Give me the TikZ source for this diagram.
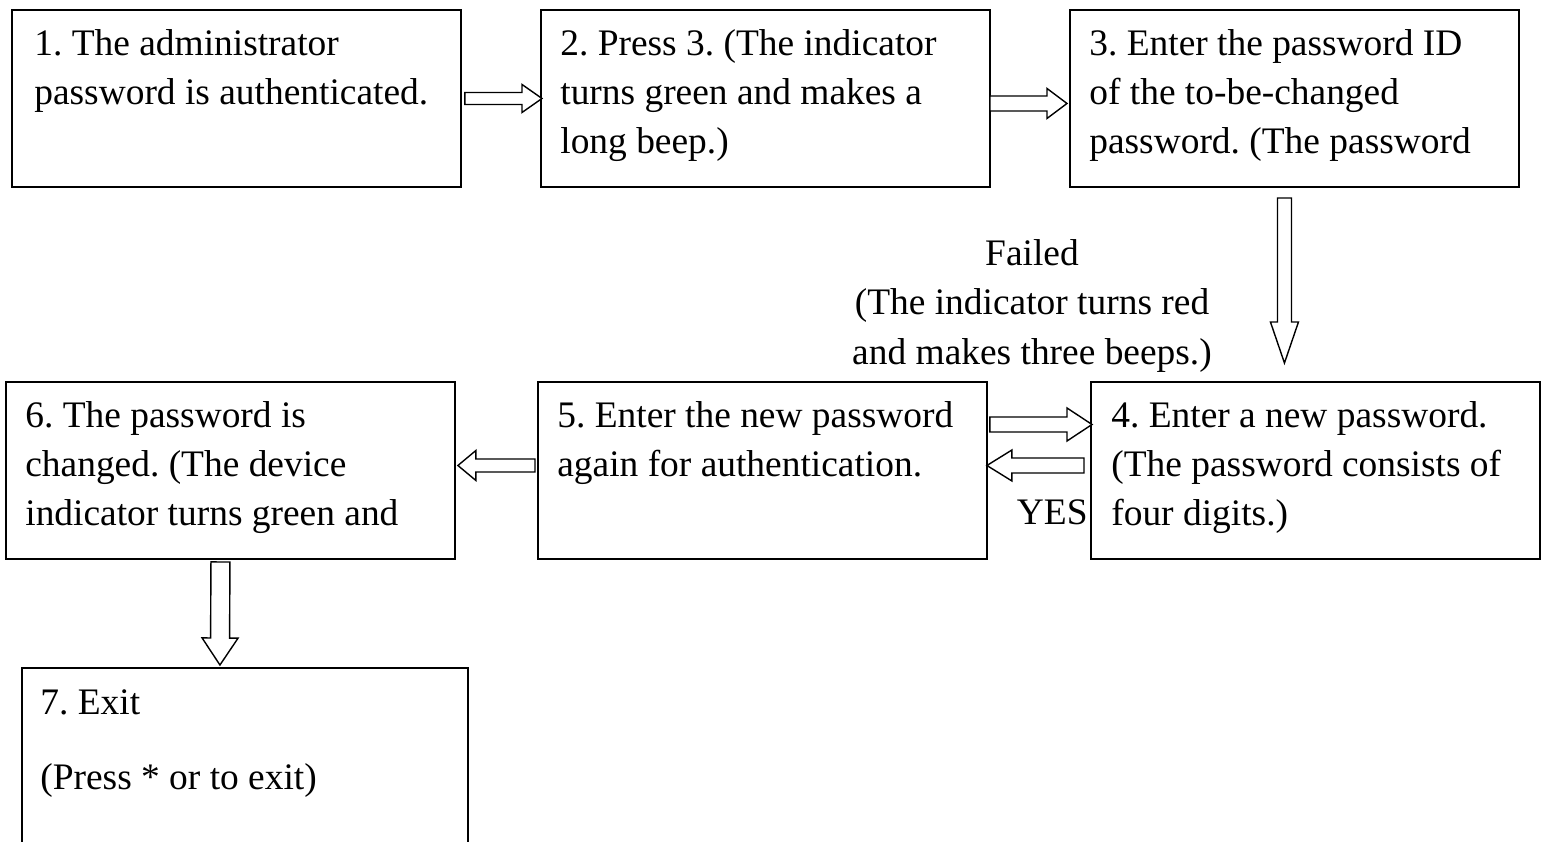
\documentclass[tikz,border=0pt]{standalone}
\usepackage{fontspec}
\setmainfont{Liberation Serif}
\usetikzlibrary{calc}

\frenchspacing
\hyphenpenalty=10000
\exhyphenpenalty=10000

\tikzset{
  stepbox/.style={draw, line width=1.1pt, rectangle, minimum width=8.98cm, minimum height=3.54cm, inner sep=0pt, outer sep=0pt, anchor=north west},
  steptext/.style={anchor=base west, align=flush left, text width=8.8cm, inner sep=0pt},
  fatline/.style={draw, line width=0.8pt, fill=white, line join=miter},
}

% start, tip, shaft half width, head half width, head length
\newcommand{\fatarrow}[5]{%
  \coordinate (fa-h) at ($(#2)!#5!(#1)$);
  \draw[fatline] ($(#1)!#3!90:(#2)$) -- ($(fa-h)!#3!90:(#2)$) -- ($(fa-h)!#4!90:(#2)$) -- (#2)
    -- ($(fa-h)!#4!-90:(#2)$) -- ($(fa-h)!#3!-90:(#2)$) -- ($(#1)!#3!-90:(#2)$) -- cycle;}

\begin{document}
\begin{tikzpicture}[x=0.02cm, y=-0.02cm, every node/.style={font=\fontsize{21.3}{27.9}\selectfont}]
\useasboundingbox (0,0) rectangle (1546,842);
\clip (0,0) rectangle (1546,842);

\node[stepbox] (b1) at (12,10) {};
\node[stepbox] (b2) at (541,10) {};
\node[stepbox] (b3) at (1070,10) {};
\node[stepbox] (b6) at (6,382) {};
\node[stepbox] (b5) at (538,382) {};
\node[stepbox] (b4) at (1091,382) {};
\node[stepbox, minimum width=8.92cm, minimum height=5cm] (b7) at (22,668) {};

\node[steptext] (t1) at ([shift={(22,45)}]b1.north west) {1. The administrator\\password is authenticated.};
\node[steptext] (t2) at ([shift={(19,45)}]b2.north west) {2. Press 3. (The indicator\\turns green and makes a\\long beep.)};
\node[steptext] (t3) at ([shift={(19,45)}]b3.north west) {3. Enter the password ID\\of the to-be-changed\\password. (The password};
\node[steptext] (t6) at ([shift={(19,45)}]b6.north west) {6. The password is\\changed. (The device\\indicator turns green and};
\node[steptext] (t5) at ([shift={(19,45)}]b5.north west) {5. Enter the new password\\again for authentication.};
\node[steptext] (t4) at ([shift={(20,45)}]b4.north west) {4. Enter a new password.\\(The password consists of\\four digits.)};
\node[steptext] (t7) at ([shift={(18,46)}]b7.north west) {7. Exit\\[0.52cm](Press * or to exit)};

\node[align=center, anchor=base] (fail) at (1032,364) {Failed\\(The indicator turns red\\and makes three beeps.)};
\node[anchor=base east, inner sep=0pt] (yes) at ([shift={(-3,54)}]b4.west) {YES};

\coordinate (a1s) at ([shift={(4,0)}]b1.east);
\coordinate (a1e) at ([shift={(1,0)}]b2.west);
\coordinate (a2s) at ([shift={(0,5)}]b2.east);
\coordinate (a2e) at ([shift={(-3,5)}]b3.west);
\coordinate (a3s) at ([shift={(-10,11)}]b3.south);
\coordinate (a3e) at ([shift={(-31,-19)}]b4.north);
\coordinate (a4s) at ([shift={(3,-46)}]b5.east);
\coordinate (a4e) at ([shift={(1,-46)}]b4.west);
\coordinate (a5s) at ([shift={(-7,-5)}]b4.west);
\coordinate (a5e) at ([shift={(0,-5)}]b5.east);
\coordinate (a6s) at ([shift={(-3,-5)}]b5.west);
\coordinate (a6e) at ([shift={(3,-5)}]b6.east);
\coordinate (a7s) at ([shift={(-10,3)}]b6.south);
\coordinate (a7e) at ([shift={(-25,-3)}]b7.north);

\fatarrow{a1s}{a1e}{0.12cm}{0.28cm}{0.40cm}
\fatarrow{a2s}{a2e}{0.15cm}{0.30cm}{0.40cm}
\fatarrow{a3s}{a3e}{0.14cm}{0.28cm}{0.82cm}
\fatarrow{a4s}{a4e}{0.15cm}{0.33cm}{0.50cm}
\fatarrow{a5s}{a5e}{0.15cm}{0.31cm}{0.50cm}
\fatarrow{a6s}{a6e}{0.13cm}{0.30cm}{0.36cm}
\fatarrow{a7s}{a7e}{0.19cm}{0.36cm}{0.54cm}
\end{tikzpicture}
\end{document}
